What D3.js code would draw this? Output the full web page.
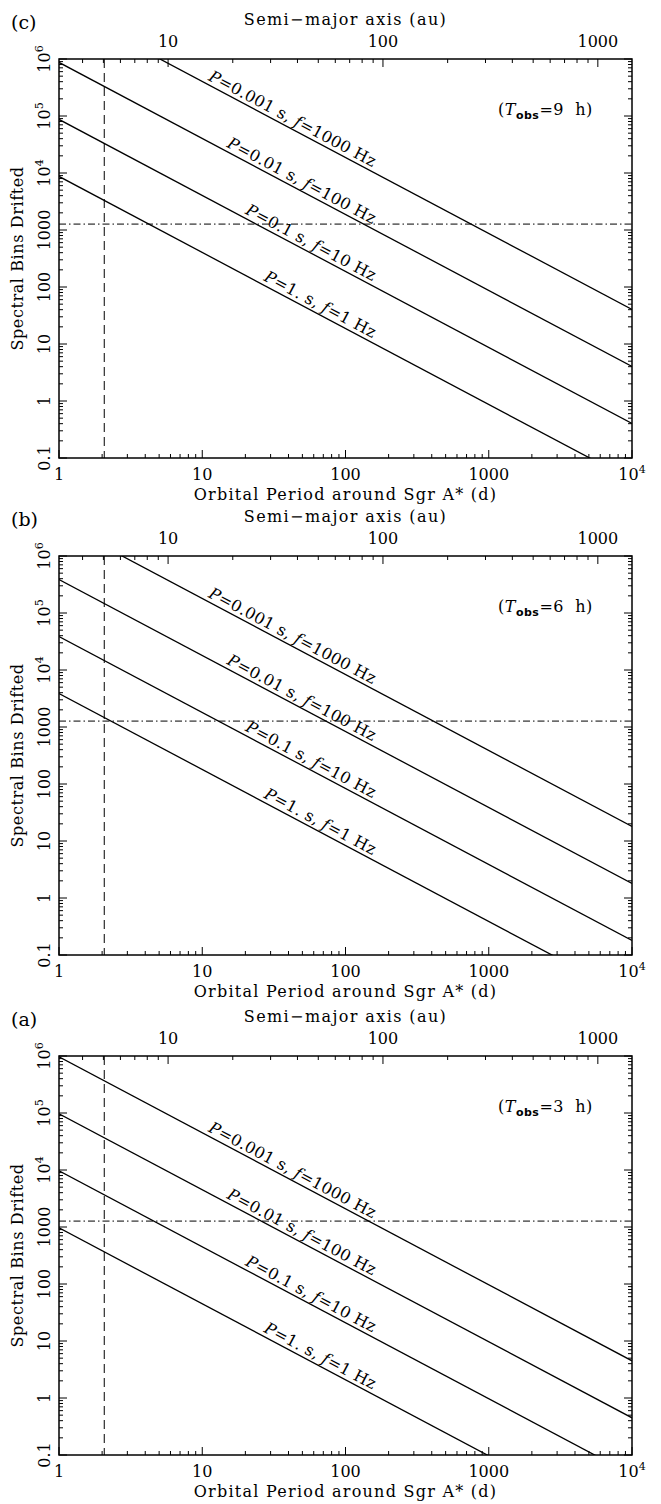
<!DOCTYPE html>
<html><head><meta charset="utf-8">
<script src="https://cdn.jsdelivr.net/npm/d3@7"></script>
<style>body{margin:0;background:#fff} text{font-family:"DejaVu Serif",serif;fill:#000}</style>
</head><body><svg id="c" width="661" height="1504"></svg>
<script>
// ---------------- data ----------------
const panelNames = ["(c)", "(b)", "(a)"];
const tobsHours = ["9", "6", "3"];
const periodRange = [1, 10000];          // orbital period (d), bottom axis
const binsRange = [0.1, 1e6];            // spectral bins drifted, left axis
const auRange = [3.107, 1442];           // semi-major axis (au) matching the period range, top axis
const linePulsePeriod = ["0.001", "0.01", "0.1", "1."];
const lineFreq = ["1000", "100", "10", "1"];
// bins drifted at P = 1 d and at P = 10^4 d for each line, per panel
const binsAtStart = [[8.7e6, 8.7e5, 8.7e4, 8.7e3], [3.87e6, 3.87e5, 3.87e4, 3.87e3], [9.67e5, 9.67e4, 9.67e3, 967]];
const binsAtEnd = [[40.4, 4.04, 0.404, 0.0404], [18.0, 1.80, 0.180, 0.0180], [4.49, 0.449, 0.0449, 0.00449]];
const thresholdBins = 1270;
const markerPeriod = 2.07;
const xMajor = [1, 10, 100, 1000, 10000];
const xMajorLabels = ["1", "10", "100", "1000", "10^4"];
const yMajor = [0.1, 1, 10, 100, 1000, 1e4, 1e5, 1e6];
const yMajorLabels = ["0.1", "1", "10", "100", "1000", "10^4", "10^5", "10^6"];
const auMajor = [10, 100, 1000];
const auMajorLabels = ["10", "100", "1000"];
const labelEndPeriod = 150;

// ---------------- layout ----------------
const panelTops = [59, 556, 1056];
const L = 59, R = 632, H = 399;
const svg = d3.select("#c");

function addLabel(sel, s, supSize) {
  const parts = s.split("^");
  sel.append("tspan").text(parts[0]);
  if (parts.length > 1) sel.append("tspan").attr("dy", -7).attr("font-size", supSize).text(parts[1]);
}
const isMajor = v => Math.abs(Math.log10(v) - Math.round(Math.log10(v))) < 1e-6;

panelNames.forEach((name, pi) => {
  const g = svg.append("g").attr("transform", `translate(0,${panelTops[pi]})`);
  const x = d3.scaleLog().domain(periodRange).range([L, R]);
  const y = d3.scaleLog().domain(binsRange).range([H, 0]);
  const xa = d3.scaleLog().domain(auRange).range([L, R]);

  const clipId = "clip" + pi;
  g.append("clipPath").attr("id", clipId).append("rect").attr("x", L).attr("y", 0).attr("width", R - L).attr("height", H);
  const plot = g.append("g").attr("clip-path", `url(#${clipId})`);

  // vertical dashed marker
  plot.append("line").attr("x1", x(markerPeriod)).attr("x2", x(markerPeriod)).attr("y1", 0).attr("y2", H)
    .attr("stroke", "#000").attr("stroke-width", 1).attr("stroke-dasharray", "9,5");
  // horizontal dash-dot threshold
  plot.append("line").attr("x1", L).attr("x2", R).attr("y1", y(thresholdBins)).attr("y2", y(thresholdBins))
    .attr("stroke", "#000").attr("stroke-width", 1).attr("stroke-dasharray", "7,3,1.5,3");

  // lines
  const lineGen = d3.line().x(d => x(d[0])).y(d => y(d[1]));
  lineFreq.forEach((f, li) => {
    const pts = [[periodRange[0], binsAtStart[pi][li]], [periodRange[1], binsAtEnd[pi][li]]];
    plot.append("path").attr("d", lineGen(pts)).attr("fill", "none").attr("stroke", "#000").attr("stroke-width", 1.3);
    // label along the line
    const t = (Math.log10(labelEndPeriod) - Math.log10(pts[0][0])) / (Math.log10(pts[1][0]) - Math.log10(pts[0][0]));
    const v = Math.pow(10, Math.log10(pts[0][1]) + t * (Math.log10(pts[1][1]) - Math.log10(pts[0][1])));
    const ang = Math.atan2(y(pts[1][1]) - y(pts[0][1]), x(pts[1][0]) - x(pts[0][0])) * 180 / Math.PI;
    const lt = g.append("text").attr("transform", `translate(${x(labelEndPeriod)},${y(v)}) rotate(${ang})`)
      .attr("text-anchor", "end").attr("dy", -4).attr("font-size", 16).attr("letter-spacing", 0.3);
    lt.append("tspan").attr("font-style", "italic").text("P");
    lt.append("tspan").text("=" + linePulsePeriod[li] + " s, ");
    lt.append("tspan").attr("font-style", "italic").text("f");
    lt.append("tspan").text("=" + f + " Hz");
  });

  // frame
  g.append("rect").attr("x", L).attr("y", 0).attr("width", R - L).attr("height", H)
    .attr("fill", "none").attr("stroke", "#000").attr("stroke-width", 1.5);

  // ticks
  const tk = g.append("g").attr("stroke", "#000").attr("stroke-width", 1);
  x.ticks(40).forEach(v => {
    const len = isMajor(v) ? 8 : 4;
    tk.append("line").attr("x1", x(v)).attr("x2", x(v)).attr("y1", H).attr("y2", H - len);
  });
  xa.ticks(40).forEach(v => {
    const len = isMajor(v) ? 8 : 4;
    tk.append("line").attr("x1", xa(v)).attr("x2", xa(v)).attr("y1", 0).attr("y2", len);
  });
  y.ticks(60).forEach(v => {
    const len = isMajor(v) ? 8 : 4;
    tk.append("line").attr("x1", L).attr("x2", L + len).attr("y1", y(v)).attr("y2", y(v));
    tk.append("line").attr("x1", R).attr("x2", R - len).attr("y1", y(v)).attr("y2", y(v));
  });

  // bottom tick labels
  xMajor.forEach((v, i) => {
    const t = g.append("text").attr("x", x(v)).attr("y", H + 22).attr("text-anchor", "middle").attr("font-size", 16);
    addLabel(t, xMajorLabels[i], 11);
  });
  // top tick labels
  auMajor.forEach((v, i) => {
    const t = g.append("text").attr("x", xa(v)).attr("y", -12).attr("text-anchor", "middle").attr("font-size", 16);
    addLabel(t, auMajorLabels[i], 11);
  });
  // left tick labels
  yMajor.forEach((v, i) => {
    const t = g.append("text").attr("transform", `translate(50,${y(v)}) rotate(-90)`).attr("text-anchor", "middle").attr("font-size", 16);
    addLabel(t, yMajorLabels[i], 11);
  });

  // titles
  g.append("text").attr("x", (L + R) / 2).attr("y", H + 42).attr("text-anchor", "middle").attr("font-size", 16)
    .attr("letter-spacing", 1.25).text("Orbital Period around Sgr A* (d)");
  g.append("text").attr("x", (L + R) / 2).attr("y", -34).attr("text-anchor", "middle").attr("font-size", 16)
    .attr("letter-spacing", 1.4).text("Semi\u2212major axis (au)");
  g.append("text").attr("transform", `translate(23,${H / 2}) rotate(-90)`).attr("text-anchor", "middle").attr("font-size", 16)
    .attr("letter-spacing", 0.6).text("Spectral Bins Drifted");
  g.append("text").attr("x", 11).attr("y", -30).attr("font-size", 19).text(name);

  // T_obs
  const tt = g.append("text").attr("x", 498).attr("y", 56).attr("font-size", 16).attr("letter-spacing", 0.5);
  tt.append("tspan").text("(");
  tt.append("tspan").attr("font-style", "italic").text("T");
  tt.append("tspan").attr("dy", 4).attr("font-size", 11).attr("font-weight", "bold").attr("font-family", "DejaVu Sans, sans-serif").text("obs");
  tt.append("tspan").attr("dy", -4).text("=" + tobsHours[pi] + "\u00a0 h)");
});
</script></body></html>
